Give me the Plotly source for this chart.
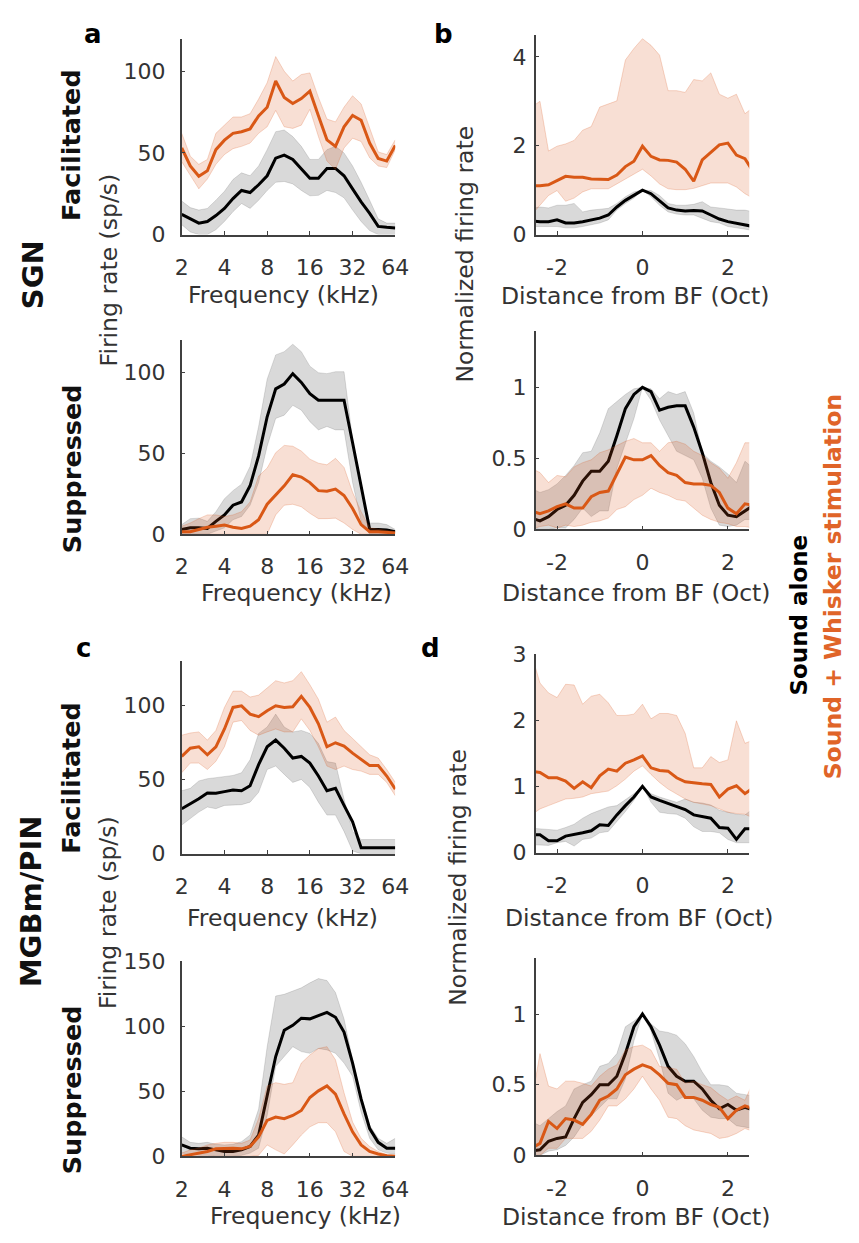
import plotly.graph_objects as go

# ---------------- data ----------------
freq_khz = [2.0, 2.297, 2.639, 3.031, 3.482, 4.0, 4.595, 5.278, 6.063, 6.964, 8.0, 9.190, 10.556,
            12.126, 13.929, 16.0, 18.379, 21.112, 24.251, 27.858, 32.0, 36.758, 42.224, 48.503,
            55.715, 64.0]
dist_oct = [-2.6, -2.4, -2.2, -2.0, -1.8, -1.6, -1.4, -1.2, -1.0, -0.8, -0.6, -0.4, -0.2, 0.0,
            0.2, 0.4, 0.6, 0.8, 1.0, 1.2, 1.4, 1.6, 1.8, 2.0, 2.2, 2.4, 2.6]

freq_ticks = [2, 4, 8, 16, 32, 64]
dist_ticks = [-2, 0, 2]

# SGN facilitated (a, top)
a_fac_snd = [12.4, 9.6, 7, 8, 11.6, 16, 22, 27, 25.7, 30.5, 36, 46.8, 48.6, 46, 40, 34.5, 34.5, 40.5, 40.5, 36, 28, 20, 13, 5, 4.4, 4]
a_fac_snd_hi = [20.5, 16.5, 15, 16, 21, 26.5, 33.7, 37.8, 36, 42, 52, 63, 64, 60, 54, 46, 46, 52, 54, 50, 42, 32, 21, 9.6, 7, 7]
a_fac_snd_lo = [6, 1.6, 0, 0, 3, 8, 14, 19, 16, 21, 27, 32, 32.5, 31, 27, 23.7, 24, 27, 25.7, 22.5, 15, 8, 2.4, 0, 0, 0]
a_fac_wsk = [53, 42, 35.7, 39, 52, 57.8, 62, 63, 64.7, 72.7, 78, 94, 84, 80.3, 83.3, 87.8, 72.7, 58, 54, 66, 73, 70, 56, 46.6, 45, 54.6]
a_fac_wsk_hi = [62, 48, 43, 46, 62, 67, 72, 72, 74, 83, 93, 109, 100, 94, 98, 99, 84, 70.7, 69, 78, 85, 80, 65, 50.6, 49, 58]
a_fac_wsk_lo = [44.6, 36, 28, 34, 43, 49, 52.6, 54, 56, 62, 66, 76, 66, 65, 67, 76.7, 60, 45, 40, 53, 59, 57, 47, 42, 41, 52]

# SGN suppressed (a, bottom)
a_sup_snd = [3, 4, 4, 3.6, 8, 12, 18, 20, 30, 48.5, 72.7, 90, 93, 99.4, 94, 87, 83, 83, 83, 83, 56.6, 29, 3, 3, 2.6, 1.6]
a_sup_snd_hi = [6, 9.7, 10, 8, 14, 22, 27, 31, 42, 66.7, 96, 111, 113, 117.6, 113, 104, 100, 99.4, 100.6, 100.6, 58.6, 28, 7, 7, 6, 3]
a_sup_snd_lo = [0, 0, 0, 0, 2, 4, 9, 11, 18, 32, 54.5, 71.7, 73.7, 79.8, 76.8, 69.7, 64.6, 66.7, 64.6, 64.6, 32, 8, 0, 0, 0, 0]
a_sup_wsk = [1.6, 1.6, 3, 4.4, 5, 5.7, 4.4, 3.6, 5, 9, 18.6, 24, 30, 36.8, 35.4, 32, 27, 26.7, 28, 24, 16, 6, 1.6, 1.6, 1, 0.8]
a_sup_wsk_hi = [5, 7, 9.7, 12, 12, 11, 12, 14, 20, 36, 41, 50.5, 55, 54.5, 51.5, 46.5, 44, 43, 47, 41.4, 26, 14, 4, 3, 2.4, 1.6]
a_sup_wsk_lo = [0, 0, 0, 0, 0, 0, 0, 0, 0, 0, 0, 12, 18, 18.6, 17, 13, 9.7, 9.7, 10, 7, 3, 0, 0, 0, 0, 0]

# SGN facilitated normalized (b, top)
b_fac_snd = [0.31, 0.29, 0.29, 0.33, 0.26, 0.26, 0.29, 0.33, 0.37, 0.44, 0.62, 0.77, 0.88, 1.0, 0.92, 0.77, 0.60, 0.55, 0.53, 0.54, 0.53, 0.44, 0.35, 0.29, 0.26, 0.22, 0.18]
b_fac_snd_hi = [0.59, 0.62, 0.60, 0.66, 0.66, 0.70, 0.51, 0.55, 0.57, 0.59, 0.70, 0.85, 0.96, 1.0, 0.99, 0.88, 0.70, 0.66, 0.66, 0.68, 0.74, 0.62, 0.60, 0.57, 0.55, 0.55, 0.51]
b_fac_snd_lo = [0.18, 0.18, 0.18, 0.18, 0.15, 0.15, 0.18, 0.22, 0.26, 0.33, 0.55, 0.70, 0.82, 1.0, 0.85, 0.66, 0.51, 0.46, 0.44, 0.44, 0.37, 0.29, 0.26, 0.18, 0.15, 0.11, 0.09]
b_fac_wsk = [1.10, 1.10, 1.12, 1.21, 1.31, 1.29, 1.29, 1.25, 1.24, 1.24, 1.34, 1.53, 1.65, 1.99, 1.76, 1.68, 1.67, 1.63, 1.47, 1.20, 1.68, 1.84, 2.02, 2.06, 1.79, 1.71, 1.40]
b_fac_wsk_hi = [2.87, 3.0, 1.88, 1.99, 2.04, 2.12, 2.35, 2.43, 2.87, 2.94, 3.01, 3.93, 4.19, 4.41, 4.26, 4.04, 3.24, 3.24, 3.20, 3.49, 3.46, 3.64, 3.16, 3.07, 3.16, 2.72, 2.87]
b_fac_wsk_lo = [0.44, 0.66, 0.88, 0.99, 0.75, 0.82, 0.96, 1.03, 1.03, 1.03, 1.14, 1.25, 1.36, 1.47, 1.32, 1.14, 1.03, 1.01, 1.01, 1.04, 1.10, 1.16, 1.16, 1.16, 1.07, 0.92, 0.81]

# SGN suppressed normalized (b, bottom)
b_sup_snd = [0.08, 0.06, 0.09, 0.14, 0.17, 0.24, 0.34, 0.41, 0.41, 0.48, 0.66, 0.85, 0.95, 1.0, 0.97, 0.84, 0.86, 0.87, 0.87, 0.72, 0.54, 0.33, 0.17, 0.10, 0.09, 0.13, 0.17]
b_sup_snd_hi = [0.29, 0.26, 0.28, 0.32, 0.38, 0.45, 0.54, 0.55, 0.68, 0.85, 0.90, 0.95, 0.99, 1.0, 0.99, 0.92, 0.97, 0.95, 0.97, 0.82, 0.54, 0.48, 0.44, 0.39, 0.33, 0.48, 0.43]
b_sup_snd_lo = [0.01, 0.0, 0.0, 0.01, 0.01, 0.07, 0.15, 0.09, 0.13, 0.13, 0.43, 0.61, 0.78, 1.0, 0.91, 0.77, 0.66, 0.55, 0.52, 0.49, 0.36, 0.15, 0.03, 0.02, 0.03, 0.07, 0.07]
b_sup_wsk = [0.13, 0.11, 0.13, 0.16, 0.18, 0.15, 0.15, 0.23, 0.26, 0.27, 0.39, 0.51, 0.49, 0.49, 0.52, 0.45, 0.40, 0.38, 0.33, 0.32, 0.32, 0.31, 0.26, 0.15, 0.11, 0.18, 0.17]
b_sup_wsk_hi = [0.43, 0.40, 0.33, 0.38, 0.37, 0.44, 0.47, 0.49, 0.54, 0.56, 0.59, 0.62, 0.64, 0.61, 0.61, 0.55, 0.61, 0.62, 0.60, 0.55, 0.52, 0.47, 0.43, 0.36, 0.47, 0.61, 0.61]
b_sup_wsk_lo = [0.0, 0.02, 0.03, 0.01, 0.03, 0.02, 0.03, 0.05, 0.06, 0.08, 0.14, 0.16, 0.21, 0.24, 0.29, 0.26, 0.24, 0.21, 0.20, 0.15, 0.10, 0.07, 0.05, 0.04, 0.02, 0.02, 0.01]

# MGBm/PIN facilitated (c, top)
c_fac_snd = [30.3, 33.6, 37, 40.9, 40.7, 41.8, 42.9, 42.4, 45.7, 60, 72, 76.5, 71, 64.4, 65.5, 61, 52.3, 42.4, 44, 32.5, 21.5, 4, 4, 4, 4, 4]
c_fac_snd_hi = [42.4, 44, 49, 50.5, 51.2, 52, 52.7, 54.5, 63.3, 81, 85.3, 94, 85.3, 82, 83, 81, 74.3, 62, 61, 36.9, 15, 9.5, 9.5, 9.5, 9.5, 9.5]
c_fac_snd_lo = [19.3, 23.7, 28, 31.4, 30.3, 32.5, 32.5, 33, 34.7, 41.3, 56.7, 59, 53.4, 48, 50, 44.6, 34.7, 26, 26, 15, 1.8, 0, 0, 0, 0, 0]
c_fac_wsk = [65.5, 71, 72, 66.6, 72, 84, 98.5, 99.6, 94, 92.3, 96.3, 99.6, 98.5, 99, 106, 98.5, 87.5, 72, 74.7, 72.5, 67.7, 63.3, 59.3, 59.3, 52.3, 43.5]
c_fac_wsk_hi = [79.8, 81.3, 82, 76.5, 83, 98.5, 109.5, 109.5, 105.5, 106.8, 111.6, 116.5, 115, 116.5, 122.6, 113.8, 104, 88.6, 92, 83, 77.6, 72, 66.6, 64.4, 56.7, 48]
c_fac_wsk_lo = [54.5, 61, 61, 56.7, 62.2, 72, 88.6, 89.7, 83, 79.8, 82, 84, 82, 82, 90.8, 83, 72, 59, 56.7, 59, 56.7, 55.6, 53.4, 53.4, 48, 39]

# MGBm/PIN suppressed (c, bottom)
c_sup_snd = [8.8, 6.3, 5.8, 6.3, 5, 3.8, 3.8, 5, 7.6, 16.4, 46.6, 76.8, 97, 100.8, 106.3, 105.8, 108.3, 110.8, 107, 95.7, 71.8, 44, 21.4, 10.8, 6.3, 6.3]
c_sup_snd_hi = [15, 10.8, 10, 10.8, 9.3, 8.8, 9.3, 11.3, 16.4, 36.5, 84.4, 123.4, 124.7, 127.2, 129.7, 133.5, 136.8, 135.3, 126, 105.8, 74.3, 46.6, 23.9, 13.9, 10, 13.9]
c_sup_snd_lo = [2.5, 1.3, 0.8, 0.8, 0, 0, 0, 0.8, 2.5, 6.3, 31.5, 69.3, 77.3, 84.4, 80.6, 79.3, 83, 81.9, 79.3, 71.8, 61.7, 34, 13.9, 5, 2.5, 1.8]
c_sup_wsk = [0, 1.3, 2.5, 3.8, 5.8, 6.3, 6.3, 5.8, 7.6, 15, 27.7, 30.2, 29, 31.5, 35.3, 45.3, 50.4, 54.2, 47.9, 32.7, 18.9, 8.8, 3.8, 1.8, 0.5, 0]
c_sup_wsk_hi = [2.5, 5, 6.3, 8.8, 10, 10.8, 10.8, 10, 12.6, 29, 54.2, 56.7, 55.4, 56.7, 71.8, 78, 83, 84.4, 74.3, 49, 26.4, 13.9, 7.6, 3.8, 1.3, 0.8]
c_sup_wsk_lo = [0, 0, 0, 0, 0, 0, 0, 0, 0, 0.8, 8.8, 5, 1.8, 8.8, 16.4, 22.7, 25.9, 25.9, 18.9, 3.8, 0, 0, 0, 0, 0, 0]

# MGBm/PIN facilitated normalized (d, top)
d_fac_snd = [0.27, 0.27, 0.18, 0.18, 0.25, 0.27, 0.30, 0.33, 0.42, 0.41, 0.57, 0.71, 0.84, 1.0, 0.84, 0.79, 0.74, 0.69, 0.65, 0.57, 0.54, 0.52, 0.38, 0.37, 0.20, 0.36, 0.36]
d_fac_snd_hi = [0.37, 0.36, 0.34, 0.34, 0.38, 0.43, 0.52, 0.59, 0.64, 0.69, 0.71, 0.80, 0.89, 1.0, 0.89, 0.84, 0.80, 0.76, 0.81, 0.76, 0.75, 0.72, 0.64, 0.61, 0.58, 0.57, 0.67]
d_fac_snd_lo = [0.12, 0.12, 0.11, 0.15, 0.17, 0.10, 0.20, 0.22, 0.30, 0.32, 0.47, 0.62, 0.79, 1.0, 0.76, 0.61, 0.59, 0.58, 0.52, 0.39, 0.32, 0.32, 0.30, 0.20, 0.15, 0.15, 0.15]
d_fac_wsk = [1.23, 1.21, 1.13, 1.13, 1.08, 0.97, 1.07, 0.98, 1.16, 1.26, 1.23, 1.35, 1.40, 1.46, 1.28, 1.24, 1.23, 1.13, 1.07, 1.05, 1.04, 1.03, 0.84, 0.96, 1.01, 0.89, 0.98]
d_fac_wsk_hi = [3.0, 2.56, 2.41, 2.34, 2.54, 2.53, 2.24, 2.36, 2.39, 2.26, 2.07, 2.07, 2.09, 2.24, 2.02, 2.10, 2.10, 2.07, 1.80, 1.28, 1.28, 1.45, 1.36, 1.40, 1.99, 1.65, 1.70]
d_fac_wsk_lo = [0.57, 0.66, 0.71, 0.76, 0.81, 0.82, 0.84, 0.89, 0.91, 0.93, 1.01, 1.11, 1.23, 1.31, 1.18, 1.06, 0.96, 0.89, 0.81, 0.76, 0.74, 0.71, 0.66, 0.61, 0.59, 0.58, 0.52]

# MGBm/PIN suppressed normalized (d, bottom)
d_sup_snd = [0.03, 0.04, 0.10, 0.12, 0.13, 0.26, 0.375, 0.43, 0.50, 0.50, 0.56, 0.72, 0.91, 1.0, 0.91, 0.78, 0.63, 0.56, 0.525, 0.525, 0.47, 0.39, 0.33, 0.36, 0.32, 0.34, 0.32]
d_sup_snd_hi = [0.24, 0.21, 0.26, 0.31, 0.35, 0.47, 0.50, 0.525, 0.63, 0.65, 0.72, 0.91, 0.95, 1.0, 0.93, 0.88, 0.87, 0.85, 0.79, 0.70, 0.59, 0.50, 0.50, 0.49, 0.44, 0.43, 0.42]
d_sup_snd_lo = [0.0, 0.0, 0.03, 0.04, 0.07, 0.13, 0.22, 0.28, 0.34, 0.40, 0.40, 0.54, 0.81, 1.0, 0.88, 0.68, 0.44, 0.39, 0.42, 0.40, 0.32, 0.27, 0.26, 0.26, 0.21, 0.20, 0.19]
d_sup_wsk = [0.05, 0.085, 0.24, 0.19, 0.26, 0.25, 0.22, 0.29, 0.39, 0.42, 0.47, 0.57, 0.61, 0.64, 0.62, 0.57, 0.51, 0.50, 0.41, 0.41, 0.39, 0.36, 0.34, 0.26, 0.32, 0.35, 0.33]
d_sup_wsk_hi = [0.375, 0.72, 0.49, 0.47, 0.525, 0.525, 0.51, 0.49, 0.56, 0.61, 0.64, 0.745, 0.77, 0.78, 0.745, 0.63, 0.62, 0.61, 0.51, 0.525, 0.50, 0.48, 0.43, 0.39, 0.42, 0.39, 0.525]
d_sup_wsk_lo = [0.0, 0.0, 0.05, 0.05, 0.12, 0.12, 0.12, 0.17, 0.25, 0.35, 0.35, 0.40, 0.47, 0.56, 0.47, 0.39, 0.27, 0.26, 0.21, 0.18, 0.17, 0.155, 0.12, 0.13, 0.155, 0.19, 0.17]

# ---------------- style ----------------
PAGE_W, PAGE_H = 859, 1243
OFF = 8                      # default page body margin
W, H = PAGE_W - 2 * OFF, PAGE_H - 2 * OFF
FONT = "DejaVu Sans"
ORANGE = "rgb(217,88,22)"
ORANGE_FILL = "rgba(217,83,25,0.19)"
ORANGE_EDGE = "rgba(217,83,25,0.22)"
GRAY_FILL = "rgba(0,0,0,0.15)"
GRAY_EDGE = "rgba(0,0,0,0.12)"
AXC = "#404040"
TXT = "#333333"


def px(x):
    return (x - OFF) / W


def py(y):
    return 1 - (y - OFF) / H


# panel geometry (page pixel boxes): left, right, top, bottom
panels = [
    dict(box=(179, 398, 27, 227), x=freq_khz, kind="f", yr=[0, 120], yt=[0, 50, 100],
         s=(a_fac_snd, a_fac_snd_hi, a_fac_snd_lo), w=(a_fac_wsk, a_fac_wsk_hi, a_fac_wsk_lo)),
    dict(box=(542, 761, 23, 227), x=dist_oct, kind="d", yr=[0, 4.5], yt=[0, 2, 4],
         s=(b_fac_snd, b_fac_snd_hi, b_fac_snd_lo), w=(b_fac_wsk, b_fac_wsk_hi, b_fac_wsk_lo)),
    dict(box=(179, 398, 335, 533), x=freq_khz, kind="f", yr=[0, 120], yt=[0, 50, 100],
         s=(a_sup_snd, a_sup_snd_hi, a_sup_snd_lo), w=(a_sup_wsk, a_sup_wsk_hi, a_sup_wsk_lo)),
    dict(box=(542, 761, 325, 528), x=dist_oct, kind="d", yr=[0, 1.4], yt=[0, 0.5, 1],
         s=(b_sup_snd, b_sup_snd_hi, b_sup_snd_lo), w=(b_sup_wsk, b_sup_wsk_hi, b_sup_wsk_lo)),
    dict(box=(179, 398, 662, 859), x=freq_khz, kind="f", yr=[0, 130], yt=[0, 50, 100],
         s=(c_fac_snd, c_fac_snd_hi, c_fac_snd_lo), w=(c_fac_wsk, c_fac_wsk_hi, c_fac_wsk_lo)),
    dict(box=(542, 761, 655, 858), x=dist_oct, kind="d", yr=[0, 3], yt=[0, 1, 2, 3],
         s=(d_fac_snd, d_fac_snd_hi, d_fac_snd_lo), w=(d_fac_wsk, d_fac_wsk_hi, d_fac_wsk_lo)),
    dict(box=(179, 398, 969, 1168), x=freq_khz, kind="f", yr=[0, 150], yt=[0, 50, 100, 150],
         s=(c_sup_snd, c_sup_snd_hi, c_sup_snd_lo), w=(c_sup_wsk, c_sup_wsk_hi, c_sup_wsk_lo)),
    dict(box=(542, 761, 965, 1167), x=dist_oct, kind="d", yr=[0, 1.4], yt=[0, 0.5, 1],
         s=(d_sup_snd, d_sup_snd_hi, d_sup_snd_lo), w=(d_sup_wsk, d_sup_wsk_hi, d_sup_wsk_lo)),
]

fig = go.Figure()
layout = dict(width=W, height=H, margin=dict(l=0, r=0, t=0, b=0), showlegend=False,
              paper_bgcolor="white", plot_bgcolor="white",
              font=dict(family=FONT, size=22, color=TXT))


def band(x, hi, lo, edge, fill, xa, ya):
    fig.add_trace(go.Scatter(x=x, y=hi, mode="lines", line=dict(color=edge, width=1),
                             xaxis=xa, yaxis=ya, hoverinfo="skip"))
    fig.add_trace(go.Scatter(x=x, y=lo, mode="lines", line=dict(color=edge, width=1),
                             fill="tonexty", fillcolor=fill, xaxis=xa, yaxis=ya, hoverinfo="skip"))


for i, p in enumerate(panels, start=1):
    xa, ya = f"x{i}", f"y{i}"
    l, r, t, b = p["box"]
    s_mean, s_hi, s_lo = p["s"]
    w_mean, w_hi, w_lo = p["w"]
    band(p["x"], s_hi, s_lo, GRAY_EDGE, GRAY_FILL, xa, ya)
    fig.add_trace(go.Scatter(x=p["x"], y=s_mean, mode="lines", line=dict(color="black", width=3),
                             xaxis=xa, yaxis=ya, name="Sound alone"))
    band(p["x"], w_hi, w_lo, ORANGE_EDGE, ORANGE_FILL, xa, ya)
    fig.add_trace(go.Scatter(x=p["x"], y=w_mean, mode="lines", line=dict(color=ORANGE, width=3),
                             xaxis=xa, yaxis=ya, name="Sound + Whisker stimulation"))

    xkey = "xaxis" if i == 1 else f"xaxis{i}"
    ykey = "yaxis" if i == 1 else f"yaxis{i}"
    common = dict(showline=True, linecolor=AXC, linewidth=1.5, ticks="inside", ticklen=4,
                  tickwidth=1.3, tickcolor=AXC, showgrid=False, zeroline=False,
                  tickfont=dict(family=FONT, size=22, color=TXT), fixedrange=True)
    if p["kind"] == "f":
        xax = dict(type="log", range=[0.30103, 1.80618], tickvals=freq_ticks,
                   ticktext=[str(v) for v in freq_ticks])
        ystand = 10
    else:
        xax = dict(range=[-2.5, 2.5], tickvals=dist_ticks, ticktext=[str(v) for v in dist_ticks])
        ystand = 3
    layout[xkey] = dict(domain=[px(l), px(r)], anchor=ya, ticklabelstandoff=12, **xax, **common)
    layout[ykey] = dict(domain=[py(b), py(t)], anchor=xa, range=p["yr"], tickvals=p["yt"],
                        ticktext=[f"{v:g}" for v in p["yt"]], ticklabelstandoff=ystand, **common)

fig.update_layout(**layout)

TF = 23.5


def ann(text, x, y, size=TF, bold=False, angle=0, color=TXT):
    fig.add_annotation(text=f"<b>{text}</b>" if bold else text, x=px(x), y=py(y),
                       xref="paper", yref="paper", showarrow=False, textangle=angle,
                       xanchor="center", yanchor="middle", borderpad=0,
                       font=dict(family=FONT, size=size, color=color))


# x-axis titles
ann("Frequency (kHz)", 283, 289)
ann("Frequency (kHz)", 297, 593)
ann("Frequency (kHz)", 282, 925)
ann("Frequency (kHz)", 306, 1229)
ann("Distance from BF (Oct)", 644, 290)
ann("Distance from BF (Oct)", 645, 593)
ann("Distance from BF (Oct)", 648, 925)
ann("Distance from BF (Oct)", 645, 1230)

# y-axis titles
ann("Firing rate (sp/s)", 104, 263, angle=-90)
ann("Firing rate (sp/s)", 104, 919, angle=-90)
ann("Normalized firing rate", 470, 247, angle=-90)
ann("Normalized firing rate", 463, 883, angle=-90)

# row labels
BK = "#111111"
ann("Facilitated", 66, 136, size=25.5, bold=True, angle=-90, color=BK)
ann("Suppressed", 66, 466, size=25.5, bold=True, angle=-90, color=BK)
ann("Facilitated", 66, 782, size=25.5, bold=True, angle=-90, color=BK)
ann("Suppressed", 66, 1100, size=25.5, bold=True, angle=-90, color=BK)
ann("SGN", 26, 268, size=29, bold=True, angle=-90, color=BK)
ann("MGBm/PIN", 24, 908, size=29, bold=True, angle=-90, color=BK)

# panel letters
ann("a", 88, 22, size=26, bold=True, color="black")
ann("b", 447, 22, size=26, bold=True, color="black")
ann("c", 78, 649, size=26, bold=True, color="black")
ann("d", 434, 649, size=26, bold=True, color="black")

# legend (rotated)
ann("Sound alone", 812, 615, size=23, bold=True, angle=-90, color="black")
ann("Sound + Whisker stimulation", 847, 587, size=23.5, bold=True, angle=-90, color="rgb(224,100,40)")

fig.write_html("out.html")
